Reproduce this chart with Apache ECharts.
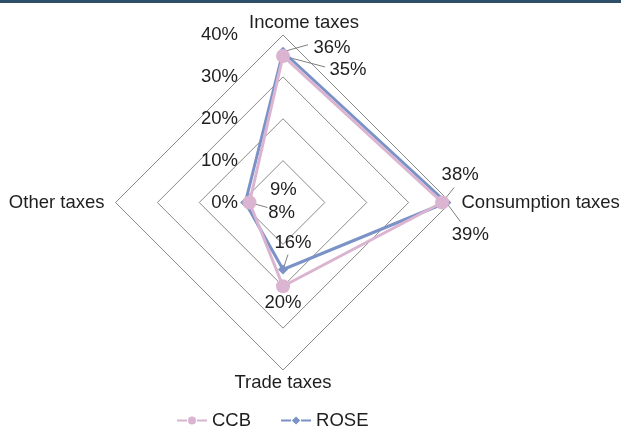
<!DOCTYPE html>
<html>
<head>
<meta charset="utf-8">
<script src="https://cdn.jsdelivr.net/npm/echarts@6/dist/echarts.min.js"></script>
<style>
  html, body { margin: 0; padding: 0; background: #fff; }
  #chart { width: 621px; height: 426px; }
</style>
</head>
<body>
<div id="chart"></div>
<script>
// Tax revenue composition, share of total (%)
const indicatorNames = ['Income taxes', 'Other taxes', 'Trade taxes', 'Consumption taxes'];
const ccbValues  = [35, 8, 20, 38];
const roseValues = [36, 9, 16, 39];
const seriesNames = ['CCB', 'ROSE'];
const axisMax = 40;
const tickStep = 10;

const FONT = '"Liberation Sans", Arial, sans-serif';
const FS = 18.5;
const TEXT_COLOR = '#1e1e1e';
const PINK = '#dab4d0';
const BLUE = '#7b92c7';

// Value-label placement (pixel offsets from each vertex), per series and indicator.
// t: text centre offset, l: leader-line end offset (null = no leader)
const labelLayout = {
  CCB: [
    { t: [65, 14],  l: [42, 11] },
    { t: [32, 10],  l: [18, 5] },
    { t: [0, 17],   l: null },
    { t: [18, -28], l: [12, -15] }
  ],
  ROSE: [
    { t: [49, -4],  l: [25, -7] },
    { t: [38, -13], l: null },
    { t: [10, -27], l: [5, -15] },
    { t: [24, 32],  l: [14, 19] }
  ]
};

// Indicator name nudges via rich-text padding
const nameRich = {
  inc:  { padding: [0, 0, 0, 42] },
  oth:  { padding: [0, 8, 0, 0] },
  trd:  { padding: [0, 0, 0, 0] },
  con:  { padding: [0, 0, 0, 8] }
};
const nameKeys = ['inc', 'oth', 'trd', 'con'];
Object.keys(nameRich).forEach(k => {
  Object.assign(nameRich[k], { fontFamily: FONT, fontSize: FS, color: TEXT_COLOR });
});

const chart = echarts.init(document.getElementById('chart'), null, { renderer: 'canvas' });

const legendIconLine = 'M0,3h10v2H0z M20,3h10v2H20z ';
const circleIcon  = 'path://' + legendIconLine + 'M11,4a4,4 0 1,0 8,0a4,4 0 1,0 -8,0z';
const diamondIcon = 'path://' + legendIconLine + 'M15,0L19.2,4L15,8L10.8,4z';

chart.setOption({
  animation: false,
  backgroundColor: '#fff',
  legend: {
    data: [
      { name: seriesNames[0], icon: circleIcon, itemStyle: { color: PINK, borderWidth: 0 } },
      { name: seriesNames[1], icon: diamondIcon, itemStyle: { color: BLUE, borderWidth: 0 } }
    ],
    left: 172,
    top: 406,
    itemWidth: 30,
    itemHeight: 8,
    itemGap: 30,
    textStyle: { fontFamily: FONT, fontSize: FS, color: TEXT_COLOR }
  },
  radar: {
    center: [283, 202.5],
    radius: 167.5,
    startAngle: 90,
    shape: 'polygon',
    splitNumber: axisMax / tickStep,
    indicator: indicatorNames.map((n, i) => {
      const ind = { name: n, min: 0, max: axisMax };
      if (i === 0) {
        ind.axisLabel = {
          show: true,
          margin: 45,
          formatter: v => v + '%',
          fontFamily: FONT,
          fontSize: FS,
          color: TEXT_COLOR
        };
      }
      return ind;
    }),
    axisName: {
      formatter: (name) => {
        const idx = indicatorNames.indexOf(name);
        return '{' + nameKeys[idx] + '|' + name + '}';
      },
      rich: nameRich,
      fontFamily: FONT,
      fontSize: FS,
      color: TEXT_COLOR
    },
    nameGap: 3,
    axisLine: { show: false },
    axisTick: { show: false },
    axisLabel: { show: false },
    splitArea: { show: false },
    splitLine: { lineStyle: { color: '#8a8a8a', width: 1 } }
  },
  series: [{
    type: 'radar',
    z: 2,
    data: [
      {
        name: seriesNames[1],
        value: roseValues,
        symbol: 'diamond',
        symbolSize: 10,
        lineStyle: { color: BLUE, width: 3 },
        itemStyle: { color: BLUE }
      },
      {
        name: seriesNames[0],
        value: ccbValues,
        symbol: 'circle',
        symbolSize: 14,
        lineStyle: { color: PINK, width: 3 },
        itemStyle: { color: PINK }
      }
    ]
  }]
});

// Value labels with leader lines, anchored on the radar's own coordinate mapping
const radarCS = chart.getModel().getComponent('radar', 0).coordinateSystem;
const graphics = [{
  type: 'rect',
  shape: { x: 0, y: 0, width: 621, height: 3 },
  style: { fill: '#2f4e68' },
  z: 10
}];
[[seriesNames[0], ccbValues], [seriesNames[1], roseValues]].forEach(([sName, vals]) => {
  vals.forEach((v, i) => {
    const p = radarCS.dataToPoint(v, i);
    const lay = labelLayout[sName][i];
    if (lay.l) {
      graphics.push({
        type: 'line',
        shape: { x1: p[0], y1: p[1], x2: p[0] + lay.l[0], y2: p[1] + lay.l[1] },
        style: { stroke: '#7f7f7f', lineWidth: 1 },
        z: 1
      });
    }
    graphics.push({
      type: 'text',
      x: p[0] + lay.t[0],
      y: p[1] + lay.t[1],
      style: {
        text: v + '%',
        fontFamily: FONT,
        fontSize: FS,
        fill: TEXT_COLOR,
        align: 'center',
        verticalAlign: 'middle'
      },
      z: 5
    });
  });
});
chart.setOption({ graphic: graphics });
</script>
</body>
</html>
